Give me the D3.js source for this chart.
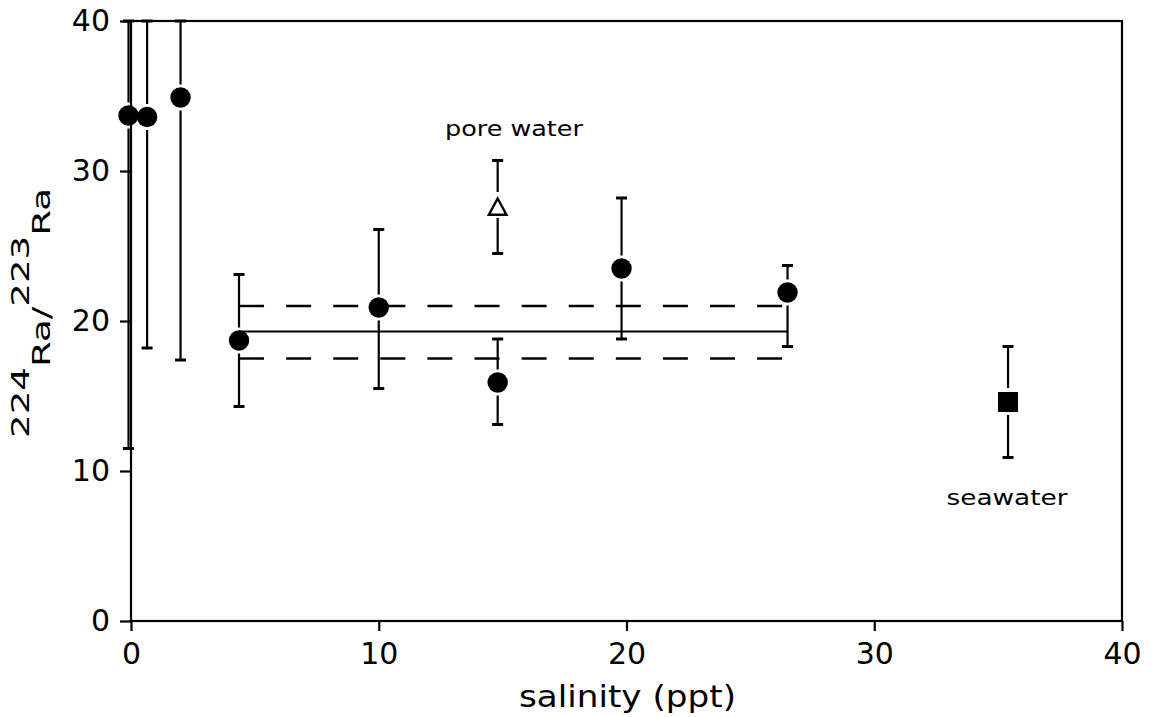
<!DOCTYPE html>
<html>
<head>
<meta charset="utf-8">
<script src="https://cdn.jsdelivr.net/npm/d3@7"></script>
<style>
  html, body { margin: 0; padding: 0; background: #fff; }
  svg { display: block; }
  text { font-family: "DejaVu Sans", "Liberation Sans", sans-serif; fill: #000; }
</style>
</head>
<body>
<svg id="chart" width="1152" height="717"></svg>
<script>
// River / estuary samples: salinity (ppt) vs 224Ra/223Ra activity ratio
const salinity  = [-0.1, 0.65, 2.0, 4.36, 10.0, 14.8, 19.8, 26.5];
const ratio     = [33.7, 33.6, 34.9, 18.7, 20.9, 15.9, 23.5, 21.9];
const ratioLow  = [11.5, 18.2, 17.4, 14.3, 15.5, 13.1, 18.8, 18.3];
const ratioHigh = [40.0, 40.0, 40.0, 23.1, 26.1, 18.8, 28.2, 23.7];

// Pore water sample
const poreSalinity = [14.8];
const poreRatio    = [27.6];
const poreLow      = [24.5];
const poreHigh     = [30.7];

// Seawater end-member
const seaSalinity = [35.4];
const seaRatio    = [14.6];
const seaLow      = [10.9];
const seaHigh     = [18.3];

// Mean ratio of the estuarine samples with its uncertainty band
const meanRange = [4.36, 26.5];
const meanRatio = 19.3;
const bandLow   = 17.5;
const bandHigh  = 21.0;

const xTicks = [0, 10, 20, 30, 40];
const yTicks = [0, 10, 20, 30, 40];

const svg = d3.select("#chart");
const x = d3.scaleLinear().domain([0, 40]).range([131, 1122]);
const y = d3.scaleLinear().domain([0, 40]).range([621, 21]);

const ink = "#000";

// Frame
svg.append("rect")
  .attr("x", x(0)).attr("y", y(40))
  .attr("width", x(40) - x(0)).attr("height", y(0) - y(40))
  .attr("fill", "none").attr("stroke", ink).attr("stroke-width", 2.2);

// Axes
const xAxis = svg.append("g")
  .attr("transform", `translate(0,${y(0)})`)
  .call(d3.axisBottom(x).tickValues(xTicks).tickFormat(d3.format("d"))
    .tickSize(10).tickPadding(12));
const yAxis = svg.append("g")
  .attr("transform", `translate(${x(0)},0)`)
  .call(d3.axisLeft(y).tickValues(yTicks).tickFormat(d3.format("d"))
    .tickSize(11).tickPadding(10));
[xAxis, yAxis].forEach(g => {
  g.select(".domain").remove();
  g.selectAll(".tick line").attr("stroke", ink).attr("stroke-width", 2.2);
  g.selectAll(".tick text").attr("font-size", 30).attr("fill", ink)
    .style("font-family", "DejaVu Sans");
});

// Axis titles
svg.append("text")
  .attr("x", (x(0) + x(40)) / 2 + 1).attr("y", 707)
  .attr("text-anchor", "middle")
  .attr("font-size", 30)
  .attr("textLength", 217).attr("lengthAdjust", "spacingAndGlyphs")
  .text("salinity (ppt)");

const yTitle = svg.append("text")
  .attr("text-anchor", "middle")
  .attr("font-size", 24);
yTitle.append("tspan").attr("dy", -21).text("224");
yTitle.append("tspan").attr("dy", 21).text("Ra/");
yTitle.append("tspan").attr("dy", -21).text("223");
yTitle.append("tspan").attr("dy", 21).text("Ra");
const yTitleLen = yTitle.node().getComputedTextLength();
yTitle.attr("transform", `translate(50,313) rotate(-90) scale(${250 / yTitleLen},1)`);

// Error bars, split around the marker
function errorBars(xs, lo, hi, mid, gapUp, gapDown) {
  const g = svg.append("g").attr("stroke", ink);
  xs.forEach((xv, i) => {
    const cx = x(xv);
    const cy = y(mid[i]);
    const yHi = y(hi[i]);
    const yLo = y(lo[i]);
    g.append("line").attr("x1", cx).attr("x2", cx)
      .attr("y1", cy - gapUp).attr("y2", yHi).attr("stroke-width", 2.2);
    g.append("line").attr("x1", cx).attr("x2", cx)
      .attr("y1", cy + gapDown).attr("y2", yLo).attr("stroke-width", 2.2);
    g.append("line").attr("x1", cx - 5.5).attr("x2", cx + 5.5)
      .attr("y1", yHi).attr("y2", yHi).attr("stroke-width", 3);
    g.append("line").attr("x1", cx - 5.5).attr("x2", cx + 5.5)
      .attr("y1", yLo).attr("y2", yLo).attr("stroke-width", 3);
  });
}

// Mean line and uncertainty band
svg.append("line")
  .attr("x1", x(meanRange[0])).attr("x2", x(meanRange[1]))
  .attr("y1", y(meanRatio)).attr("y2", y(meanRatio))
  .attr("stroke", ink).attr("stroke-width", 2.2);
[bandLow, bandHigh].forEach(v => {
  svg.append("line")
    .attr("x1", x(meanRange[0])).attr("x2", x(meanRange[1]))
    .attr("y1", y(v)).attr("y2", y(v))
    .attr("stroke", ink).attr("stroke-width", 2.4)
    .attr("stroke-dasharray", "25,22.1");
});

// Estuarine samples
errorBars(salinity, ratioLow, ratioHigh, ratio, 13, 13);
svg.append("g").selectAll("circle")
  .data(salinity)
  .join("circle")
  .attr("cx", d => x(d))
  .attr("cy", (d, i) => y(ratio[i]))
  .attr("r", 10.2)
  .attr("fill", ink);

// Pore water
errorBars(poreSalinity, poreLow, poreHigh, poreRatio, 15, 11);
svg.append("g").selectAll("path")
  .data(poreSalinity)
  .join("path")
  .attr("transform", (d, i) => `translate(${x(d)},${y(poreRatio[i])})`)
  .attr("d", "M0,-8.5L8.8,7.8L-8.8,7.8Z")
  .attr("fill", "#fff").attr("stroke", ink).attr("stroke-width", 2.4)
  .attr("stroke-linejoin", "miter");
svg.append("text")
  .attr("x", 514).attr("y", 136)
  .attr("text-anchor", "middle").attr("font-size", 21)
  .attr("textLength", 138).attr("lengthAdjust", "spacingAndGlyphs")
  .text("pore water");

// Seawater
errorBars(seaSalinity, seaLow, seaHigh, seaRatio, 14, 13);
svg.append("g").selectAll("rect.sw")
  .data(seaSalinity)
  .join("rect")
  .attr("class", "sw")
  .attr("x", d => x(d) - 10)
  .attr("y", (d, i) => y(seaRatio[i]) - 10)
  .attr("width", 20).attr("height", 20)
  .attr("fill", ink);
svg.append("text")
  .attr("x", 1007).attr("y", 505)
  .attr("text-anchor", "middle").attr("font-size", 21)
  .attr("textLength", 121).attr("lengthAdjust", "spacingAndGlyphs")
  .text("seawater");
</script>
</body>
</html>
